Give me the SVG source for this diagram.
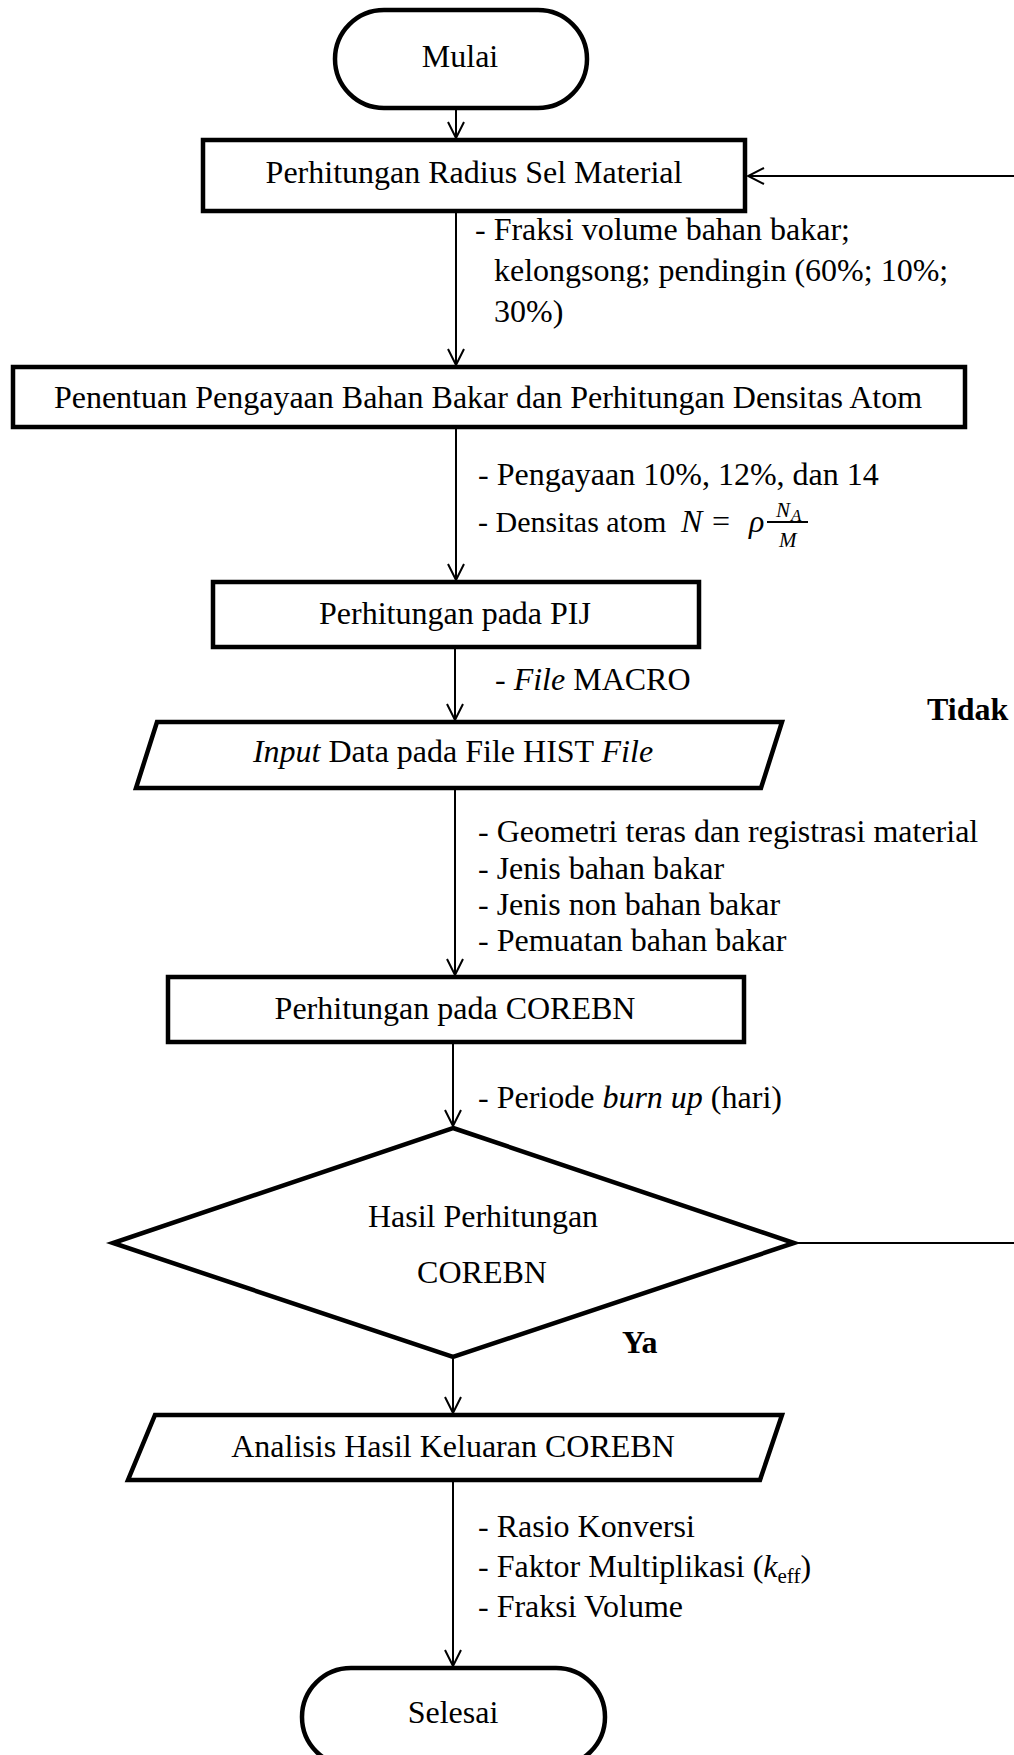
<svg xmlns="http://www.w3.org/2000/svg" width="1014" height="1755" viewBox="0 0 1014 1755" font-family="'Liberation Serif', 'DejaVu Serif', serif">
<style>
text{font-family:'Liberation Serif','DejaVu Serif',serif;font-size:32px;fill:#000;font-weight:400}
.c{text-anchor:middle}
.b{font-weight:bold}
.i{font-style:italic}
.shape{fill:#fff;stroke:#000;stroke-width:4.5;stroke-linejoin:miter}
.term{fill:#fff;stroke:#000;stroke-width:4.5}
.conn{fill:none;stroke:#000;stroke-width:2}
</style>
<defs>
<marker id="arr" markerUnits="userSpaceOnUse" viewBox="-18 -10 20 20" refX="0" refY="0" markerWidth="20" markerHeight="20" orient="auto">
<path d="M-16,-8 L0,0 L-16,8" fill="none" stroke="#000" stroke-width="2"/>
</marker>
</defs>
<rect x="0" y="0" width="1014" height="1755" fill="#fff"/>

<g id="connectors">
<line class="conn" x1="456" y1="110" x2="456" y2="138" marker-end="url(#arr)"/>
<line class="conn" x1="456" y1="213" x2="456" y2="365" marker-end="url(#arr)"/>
<line class="conn" x1="456" y1="429" x2="456" y2="580" marker-end="url(#arr)"/>
<line class="conn" x1="455" y1="649" x2="455" y2="720" marker-end="url(#arr)"/>
<line class="conn" x1="455" y1="790" x2="455" y2="975" marker-end="url(#arr)"/>
<line class="conn" x1="453" y1="1044" x2="453" y2="1126" marker-end="url(#arr)"/>
<line class="conn" x1="453" y1="1359" x2="453" y2="1413" marker-end="url(#arr)"/>
<line class="conn" x1="453" y1="1482" x2="453" y2="1666" marker-end="url(#arr)"/>
<polyline class="conn" points="796,1243 1017,1243 1017,176 748,176" marker-end="url(#arr)"/>
</g>

<g id="mulai">
<rect class="term" x="335" y="10" width="252" height="98" rx="49" ry="49"/>
<text class="c" x="460" y="67">Mulai</text>
</g>

<g id="radius">
<rect class="shape" x="203" y="140" width="542" height="71"/>
<text class="c" x="474" y="183">Perhitungan Radius Sel Material</text>
</g>

<g id="label-fraksi">
<text x="475" y="240">- Fraksi volume bahan bakar;</text>
<text x="494" y="281">kelongsong; pendingin (60%; 10%;</text>
<text x="494" y="322">30%)</text>
</g>

<g id="pengayaan">
<rect class="shape" x="13" y="367" width="952" height="60"/>
<text class="c" x="488" y="408">Penentuan Pengayaan Bahan Bakar dan Perhitungan Densitas Atom</text>
</g>

<g id="label-pengayaan">
<text x="478" y="485">- Pengayaan 10%, 12%, dan 14</text>
<text x="478" y="532" style="font-size:30px">- Densitas atom</text>
<text class="i" x="681" y="532">N</text>
<text x="712" y="532">=</text>
<text class="i" x="749" y="532">ρ</text>
<line x1="767" y1="522" x2="808" y2="522" stroke="#000" stroke-width="2"/>
<text class="i" x="776" y="517" style="font-size:21px">N</text>
<text class="i" x="791" y="521" style="font-size:17px">A</text>
<text class="i" x="779" y="547" style="font-size:21px">M</text>
</g>

<g id="pij">
<rect class="shape" x="213" y="582" width="486" height="65"/>
<text class="c" x="455" y="624">Perhitungan pada PIJ</text>
</g>

<g id="label-macro">
<text x="495" y="690">- <tspan class="i">File</tspan> MACRO</text>
</g>

<text class="b" x="927" y="720">Tidak</text>

<g id="input-hist">
<polygon class="shape" points="157,722 782,722 761,788 136,788"/>
<text class="c" x="453" y="762"><tspan class="i">Input</tspan> Data pada File HIST <tspan class="i">File</tspan></text>
</g>

<g id="label-geometri">
<text x="478" y="842">- Geometri teras dan registrasi material</text>
<text x="478" y="879">- Jenis bahan bakar</text>
<text x="478" y="915">- Jenis non bahan bakar</text>
<text x="478" y="951">- Pemuatan bahan bakar</text>
</g>

<g id="corebn">
<rect class="shape" x="168" y="977" width="576" height="65"/>
<text class="c" x="455" y="1019">Perhitungan pada COREBN</text>
</g>

<g id="label-periode">
<text x="478" y="1108">- Periode <tspan class="i">burn up</tspan> (hari)</text>
</g>

<g id="hasil">
<polygon class="shape" points="453,1128 794,1243 453,1357 113,1243"/>
<text class="c" x="483" y="1227">Hasil Perhitungan</text>
<text class="c" x="482" y="1283">COREBN</text>
</g>

<text class="b" x="622" y="1353">Ya</text>

<g id="analisis">
<polygon class="shape" points="155,1415 782,1415 760,1480 128,1480"/>
<text class="c" x="453" y="1457">Analisis Hasil Keluaran COREBN</text>
</g>

<g id="label-analisis">
<text x="478" y="1537">- Rasio Konversi</text>
<text x="478" y="1577">- Faktor Multiplikasi (<tspan class="i">k</tspan><tspan style="font-size:21px" dy="6">eff</tspan><tspan dy="-6">)</tspan></text>
<text x="478" y="1617">- Fraksi Volume</text>
</g>

<g id="selesai">
<rect class="term" x="302" y="1668" width="303" height="98" rx="49" ry="49"/>
<text class="c" x="453" y="1723">Selesai</text>
</g>
</svg>
